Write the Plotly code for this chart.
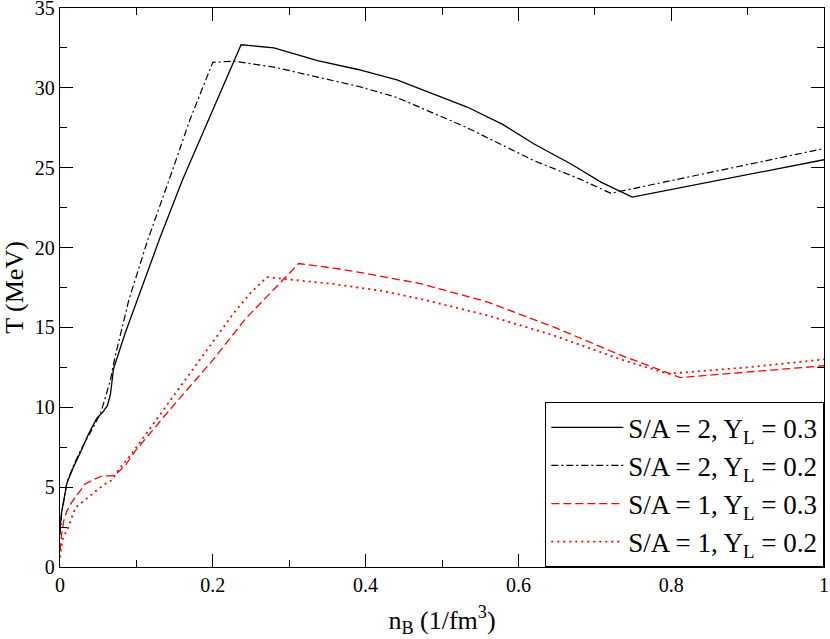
import plotly.graph_objects as go

# S/A = 2, Y_L = 0.3 (solid black)
nb_s2_y3 = [0, 0.002, 0.009, 0.018, 0.027, 0.037, 0.048, 0.056, 0.062, 0.066, 0.068, 0.07,
            0.085, 0.101, 0.13, 0.16, 0.2, 0.237, 0.28, 0.337, 0.39, 0.441, 0.5, 0.533,
            0.58, 0.62, 0.67, 0.708, 0.749, 0.85, 1.0]
t_s2_y3 = [2.3, 3.4, 5.25, 6.3, 7.2, 8.3, 9.3, 9.7, 10.1, 10.8, 11.6, 12.4,
           14.6, 16.7, 20.5, 24.2, 28.6, 32.7, 32.5, 31.7, 31.15, 30.5, 29.4, 28.8,
           27.7, 26.5, 25.2, 24.1, 23.16, 24.1, 25.5]

# S/A = 2, Y_L = 0.2 (dash-dot black)
nb_s2_y2 = [0, 0.002, 0.009, 0.018, 0.027, 0.037, 0.053, 0.066, 0.072, 0.09, 0.115, 0.144,
            0.17, 0.2, 0.227, 0.28, 0.337, 0.39, 0.441, 0.533, 0.62, 0.68, 0.721, 0.85, 1.0]
t_s2_y2 = [2.0, 3.3, 5.3, 6.4, 7.3, 8.2, 9.6, 11.7, 13.15, 16.7, 20.5, 24.4,
           28.0, 31.6, 31.67, 31.3, 30.67, 30.1, 29.4, 27.5, 25.45, 24.3, 23.4, 24.7, 26.2]

# S/A = 1, Y_L = 0.3 (dashed red)
nb_s1_y3 = [0, 0.002, 0.005, 0.009, 0.016, 0.025, 0.033, 0.045, 0.055, 0.065, 0.072, 0.086,
            0.099, 0.15, 0.2, 0.243, 0.28, 0.3125, 0.36, 0.398, 0.472, 0.559, 0.646, 0.734,
            0.812, 0.9, 1.0]
t_s1_y3 = [1.0, 2.0, 2.9, 3.5, 4.1, 4.7, 5.2, 5.5, 5.7, 5.7, 5.75, 6.4,
           7.3, 10.2, 12.95, 15.55, 17.4, 19.0, 18.7, 18.4, 17.74, 16.6, 15.03, 13.26,
           11.86, 12.2, 12.6]

# S/A = 1, Y_L = 0.2 (dotted red)
nb_s1_y2 = [0, 0.003, 0.007, 0.011, 0.02, 0.03, 0.037, 0.048, 0.059, 0.068, 0.077, 0.094,
            0.15, 0.19, 0.227, 0.25, 0.271, 0.3, 0.354, 0.42, 0.476, 0.559, 0.646, 0.734,
            0.795, 0.9, 1.0]
t_s1_y2 = [0.6, 1.7, 2.1, 2.5, 3.7, 4.1, 4.4, 4.8, 5.2, 5.45, 6.1, 7.1,
           10.8, 13.4, 15.87, 17.2, 18.15, 18.0, 17.74, 17.3, 16.74, 15.76, 14.5, 13.0,
           12.1, 12.5, 13.0]

FONT = '"Liberation Serif", "Times New Roman", Times, "DejaVu Serif", serif'

fig = go.Figure()
fig.add_trace(go.Scatter(x=nb_s2_y3, y=t_s2_y3, mode='lines',
                         name='S/A = 2, Y<sub>L</sub> = 0.3',
                         line=dict(color='black', width=1.3)))
fig.add_trace(go.Scatter(x=nb_s2_y2, y=t_s2_y2, mode='lines',
                         name='S/A = 2, Y<sub>L</sub> = 0.2',
                         line=dict(color='black', width=1.2, dash='7px,3px,2px,3px')))
fig.add_trace(go.Scatter(x=nb_s1_y3, y=t_s1_y3, mode='lines',
                         name='S/A = 1, Y<sub>L</sub> = 0.3',
                         line=dict(color='#ff0000', width=1.3, dash='8px,4px')))
fig.add_trace(go.Scatter(x=nb_s1_y2, y=t_s1_y2, mode='lines',
                         name='S/A = 1, Y<sub>L</sub> = 0.2',
                         line=dict(color='#ff0000', width=1.8, dash='2px,4px')))

axis_common = dict(
    showline=True, linecolor='black', linewidth=1.3, mirror='ticks',
    ticks='inside', ticklen=13, tickwidth=1.3, tickcolor='black',
    showgrid=False, zeroline=False, automargin=False,
    ticklabeloverflow='allow',
    tickfont=dict(family=FONT, size=20, color='black'),
)

fig.update_xaxes(range=[0, 1], dtick=0.2, tick0=0,
                 minor=dict(ticks='inside', ticklen=7, dtick=0.1, tickcolor='black', tickwidth=1.3),
                 title=dict(text='n<sub>B</sub> (1/fm<sup>3</sup>)',
                            font=dict(family=FONT, size=26, color='black'), standoff=15),
                 **axis_common)
fig.update_yaxes(range=[0, 35], dtick=5, tick0=0,
                 minor=dict(ticks='inside', ticklen=7, dtick=2.5, tickcolor='black', tickwidth=1.3),
                 title=dict(text='T (MeV)',
                            font=dict(family=FONT, size=26, color='black'), standoff=9),
                 **axis_common)

fig.update_layout(
    width=830, height=639,
    margin=dict(l=60, r=6, t=8, b=72),
    paper_bgcolor='white', plot_bgcolor='white',
    showlegend=True,
    legend=dict(x=1, y=0, xanchor='right', yanchor='bottom',
                bgcolor='white', bordercolor='black', borderwidth=1.3,
                font=dict(family=FONT, size=27, color='black'),
                itemwidth=72, tracegroupgap=0),
)

fig.write_html("out.html", config={'displayModeBar': False},
               post_script="document.body.style.margin='0';")
